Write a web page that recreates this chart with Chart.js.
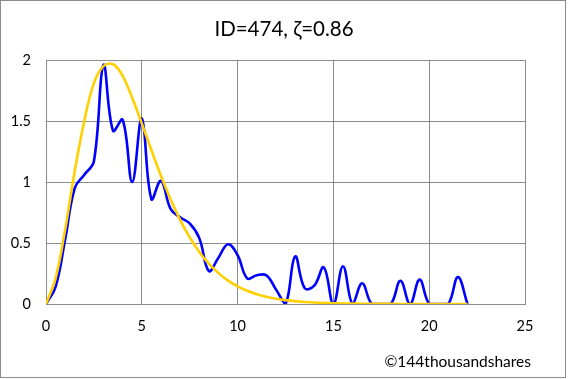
<!DOCTYPE html>
<html>
<head>
<meta charset="utf-8">
<script src="https://cdn.jsdelivr.net/npm/chart.js@4/dist/chart.umd.min.js"></script>
<style>
  html, body { margin: 0; padding: 0; background: #ffffff; }
  #wrap { width: 568px; height: 379px; }
</style>
</head>
<body>
<div id="wrap"><canvas id="c" width="568" height="379"></canvas></div>
<script>
// ---- data ----
const titleText = "ID=474, \u03B6=0.86";
const creditText = "\u00A9144thousandshares";

const xValues = [0, 0.5, 1, 1.5, 2, 2.5, 3, 3.5, 4, 4.5, 5, 5.5, 6, 6.5, 7, 7.5, 8, 8.5, 9, 9.5,
                 10, 10.5, 11, 11.5, 12, 12.5, 13, 13.5, 14, 14.5, 15, 15.5, 16, 16.5, 17, 17.5,
                 18, 18.5, 19, 19.5, 20, 20.5, 21, 21.5, 22];

const observed = [0, 0.14, 0.53, 0.95, 1.06, 1.17, 1.96, 1.42, 1.51, 1.00, 1.52, 0.86, 1.01, 0.78,
                  0.71, 0.66, 0.54, 0.27, 0.38, 0.49, 0.40, 0.21, 0.235, 0.235, 0.12, 0.00, 0.39,
                  0.13, 0.15, 0.30, 0, 0.31, 0, 0.17, 0, 0, 0, 0.19, 0, 0.20, 0, 0, 0, 0.22, 0];

const fitted = [0, 0.21, 0.61, 1.09, 1.50, 1.81, 1.95, 1.965, 1.87, 1.69, 1.48, 1.262, 1.051,
                0.859, 0.690, 0.546, 0.427, 0.330, 0.253, 0.192, 0.145, 0.108, 0.0805, 0.0594,
                0.0437, 0.0320, 0.0233, 0.0169, 0.0122, 0.0088, 0.0063, 0.0045, 0.0032, 0.0023,
                0.0016, 0.0011, 0.0008, 0.0006, 0.0004, 0.0003, 0.0002, 0.0001, 0.0001, 0.0001, 0];

const xTickMin = 0, xTickMax = 25, xTickStep = 5;
const yTickMin = 0, yTickMax = 2, yTickStep = 0.5;
const yTickLabels = ["0", "0.5", "1", "1.5", "2"];

// ---- build chart ----
const toPoints = (ys) => xValues.map((x, i) => ({ x: x, y: ys[i] }));
const FONT = "Lato, 'Open Sans', 'DejaVu Sans', sans-serif";
const GRID = '#8c8c8c';

const decor = {
  id: 'decor',
  beforeDraw(chart) {
    const ctx = chart.ctx;
    ctx.save();
    ctx.fillStyle = '#ffffff';
    ctx.fillRect(0, 0, chart.width, chart.height);
    ctx.restore();
  },
  afterDraw(chart) {
    const ctx = chart.ctx;
    ctx.save();
    ctx.strokeStyle = GRID;
    ctx.lineWidth = 1;
    ctx.strokeRect(0.5, 0.5, 565, 377);
    ctx.fillStyle = '#000000';
    ctx.textAlign = 'center';
    ctx.textBaseline = 'alphabetic';
    ctx.font = "20.5px " + FONT;
    ctx.fillText(titleText, 284, 35.5);
    ctx.textAlign = 'right';
    ctx.font = "15.5px " + FONT;
    ctx.fillText(creditText, 531, 366.5);
    ctx.restore();
  }
};

new Chart(document.getElementById('c'), {
  type: 'scatter',
  data: {
    datasets: [
      {
        label: 'fit',
        data: toPoints(fitted),
        showLine: true,
        borderColor: '#FFD000',
        borderWidth: 2.6,
        pointRadius: 0,
        tension: 0.4,
        order: 0
      },
      {
        label: 'observed',
        data: toPoints(observed),
        showLine: true,
        borderColor: '#0000FF',
        borderWidth: 2.6,
        pointRadius: 0,
        tension: 0.4,
        order: 1
      }
    ]
  },
  options: {
    responsive: false,
    animation: false,
    devicePixelRatio: 1,
    layout: { padding: { top: 60, right: 43, bottom: 0, left: 0 } },
    plugins: {
      legend: { display: false },
      title: { display: false },
      tooltip: { enabled: false }
    },
    scales: {
      x: {
        type: 'linear',
        min: xTickMin,
        max: xTickMax,
        afterFit(scale) { scale.height = 75; },
        ticks: {
          stepSize: xTickStep,
          color: '#000000',
          font: { family: FONT, size: 14.5 },
          padding: 14,
          maxRotation: 0
        },
        grid: { color: GRID, lineWidth: 1, drawTicks: false },
        border: { color: GRID, width: 1 }
      },
      y: {
        type: 'linear',
        min: yTickMin,
        max: yTickMax,
        afterFit(scale) { scale.width = 46; },
        ticks: {
          stepSize: yTickStep,
          color: '#000000',
          font: { family: FONT, size: 14.5 },
          padding: 15,
          callback: (value, index) => yTickLabels[index]
        },
        grid: { color: GRID, lineWidth: 1, drawTicks: false },
        border: { color: GRID, width: 1 }
      }
    }
  },
  plugins: [decor]
});
</script>
</body>
</html>
